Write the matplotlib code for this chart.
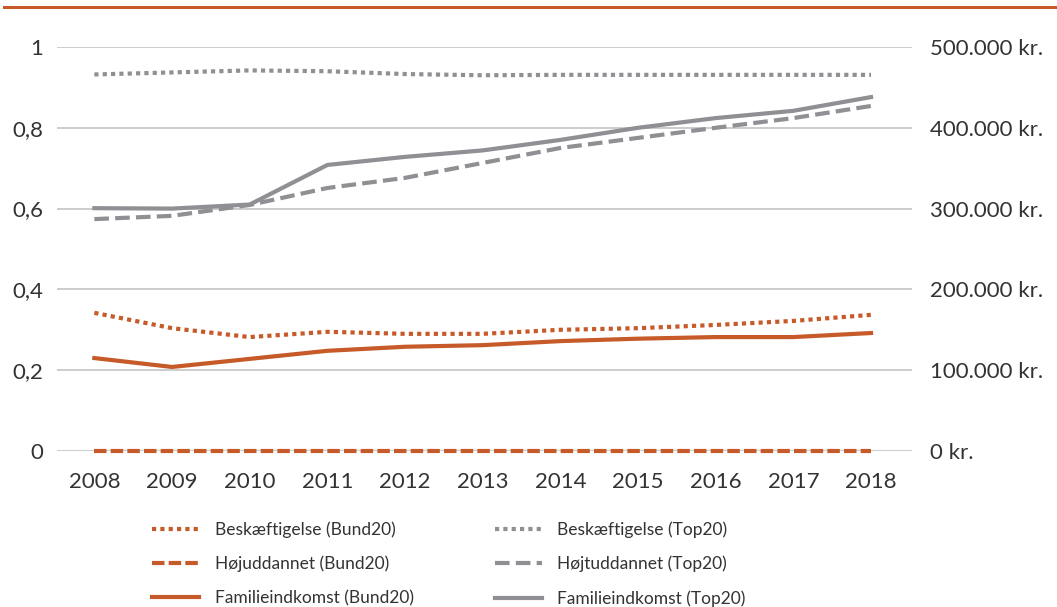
import matplotlib
matplotlib.use('Agg')
import matplotlib.pyplot as plt
from matplotlib.lines import Line2D

plt.rcParams['font.family'] = ['Lato', 'DejaVu Sans']

years = [2008, 2009, 2010, 2011, 2012, 2013, 2014, 2015, 2016, 2017, 2018]

# andele (venstre akse)
besk_bund = [0.342, 0.304, 0.282, 0.295, 0.290, 0.290, 0.300, 0.304, 0.312, 0.322, 0.337]
hoj_bund = [0, 0, 0, 0, 0, 0, 0, 0, 0, 0, 0]
besk_top = [0.932, 0.937, 0.942, 0.940, 0.933, 0.930, 0.931, 0.931, 0.931, 0.931, 0.931]
hoj_top = [0.574, 0.582, 0.609, 0.651, 0.676, 0.713, 0.750, 0.775, 0.800, 0.824, 0.854]

# familieindkomst i kr. (hoejre akse)
ind_bund = [115000, 104000, 114000, 124000, 129000, 131000, 136000, 139000, 141000, 141000, 146000]
ind_top = [300500, 300000, 305000, 354000, 364000, 372000, 385000, 400000, 412000, 421000, 438000]

left_ticks = [0, 0.2, 0.4, 0.6, 0.8, 1]
left_labels = ['0', '0,2', '0,4', '0,6', '0,8', '1']
right_ticks = [0, 100000, 200000, 300000, 400000, 500000]
right_labels = ['0 kr.', '100.000 kr.', '200.000 kr.', '300.000 kr.', '400.000 kr.', '500.000 kr.']

orange = '#c65a28'
grey = '#8f8f94'
txt = '#333333'

fig = plt.figure(figsize=(10.57, 6.07), dpi=100)
ax = fig.add_axes([0.054, 0.257, 0.809, 0.6656])
ax2 = ax.twinx()

lw = 3.0
l1, = ax.plot(years, besk_bund, color=orange, lw=lw, dashes=(1, 1), dash_capstyle='butt',
              label='Beskæftigelse (Bund20)', clip_on=False)
l2, = ax.plot(years, hoj_bund, color=orange, lw=lw, dashes=(3, 1), dash_capstyle='butt',
              label='Højuddannet (Bund20)', clip_on=False)
l3, = ax2.plot(years, ind_bund, color=orange, lw=lw, label='Familieindkomst (Bund20)', clip_on=False)
l4, = ax.plot(years, besk_top, color=grey, lw=lw, dashes=(1, 1), dash_capstyle='butt',
              label='Beskæftigelse (Top20)', clip_on=False)
l5, = ax.plot(years, hoj_top, color=grey, lw=lw, dashes=(3.5, 1.5), dash_capstyle='butt',
              label='Højtuddannet (Top20)', clip_on=False)
l6, = ax2.plot(years, ind_top, color=grey, lw=lw, label='Familieindkomst (Top20)', clip_on=False)

ax.set_xlim(2007.52, 2018.53)
ax.set_ylim(0, 1)
ax2.set_ylim(0, 500000)
ax.set_xticks(years)
ax.set_yticks(left_ticks)
ax.set_yticklabels(left_labels)
ax2.set_yticks(right_ticks)
ax2.set_yticklabels(right_labels)

ax.grid(axis='y', color='#c4c4c4', lw=1.2)
ax.set_axisbelow(True)
for a in (ax, ax2):
    for s in a.spines.values():
        s.set_visible(False)
ax.tick_params(axis='both', length=0, labelsize=16, colors=txt)
ax.tick_params(axis='y', pad=10)
ax.tick_params(axis='x', pad=15)
ax2.tick_params(axis='y', length=0, labelsize=16, colors=txt, pad=13)

fig.add_artist(Line2D([0.004, 1], [0.9885, 0.9885], color=orange, lw=2.2, transform=fig.transFigure))

fig.legend(handles=[l1, l2, l3, l4, l5, l6], loc='upper left', bbox_to_anchor=(0.136, 0.155),
           ncol=2, frameon=False, fontsize=12.5, handlelength=2.7, handletextpad=0.9,
           labelspacing=1.02, columnspacing=4.65, borderpad=0, labelcolor=txt)

fig.savefig('out.png', dpi=100)
